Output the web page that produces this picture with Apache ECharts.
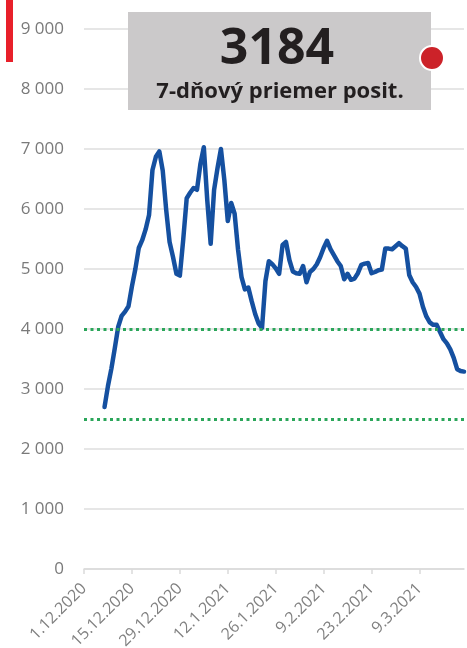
<!DOCTYPE html>
<html>
<head>
<meta charset="utf-8">
<script src="https://cdn.jsdelivr.net/npm/echarts@6/dist/echarts.min.js"></script>
<style>
  html, body { margin: 0; padding: 0; background: #ffffff; }
  #chart { width: 467px; height: 648px; }
</style>
</head>
<body>
<div id="chart"></div>
<script>
// days 1.12.2020 .. 22.3.2021
const firstDay = new Date(2020, 11, 1);
const dayCount = 112;
const categories = [];
for (let i = 0; i < dayCount; i++) {
  const d = new Date(firstDay.getTime() + i * 86400000);
  categories.push(d.getDate() + '.' + (d.getMonth() + 1) + '.' + d.getFullYear());
}

// 7-day average of positive tests (from 7.12.2020)
const leadingEmpty = [null, null, null, null, null, null];
const avgPositive = [
  2700, 3050, 3340, 3680, 4040, 4220, 4290, 4380, 4710, 5000,
  5350, 5480, 5660, 5900, 6650, 6870, 6960, 6640, 5990, 5450,
  5200, 4920, 4890, 5500, 6180, 6270, 6350, 6320, 6750, 7030,
  6150, 5420, 6320, 6680, 7000, 6480, 5800, 6100, 5920, 5320,
  4870, 4660, 4690, 4460, 4250, 4090, 4020, 4800, 5130, 5080,
  5010, 4920, 5400, 5450, 5150, 4960, 4930, 4920, 5050, 4780,
  4950, 5000, 5080, 5200, 5350, 5470, 5330, 5230, 5130, 5050,
  4830, 4920, 4820, 4840, 4930, 5070, 5090, 5100, 4930, 4950,
  4980, 4990, 5340, 5340, 5330, 5380, 5430, 5380, 5340, 4900,
  4780, 4700, 4590, 4370, 4210, 4110, 4070, 4070, 3950, 3830,
  3760, 3660, 3520, 3330, 3300, 3290
];
const lineData = leadingEmpty.concat(avgPositive);

const thresholds = [4000, 2500];
const latestValue = '3184';
const latestLabel = '7-dňový priemer posit.';

const chart = echarts.init(document.getElementById('chart'));

const option = {
  animation: false,
  backgroundColor: '#ffffff',
  grid: { left: 84, right: 3, top: 29, bottom: 79, outerBoundsMode: 'none' },
  xAxis: {
    type: 'category',
    data: categories,
    boundaryGap: false,
    axisLine: { lineStyle: { color: '#dadada', width: 1.5 } },
    axisTick: { interval: 13, length: 5, lineStyle: { color: '#dadada', width: 1.5 } },
    axisLabel: {
      interval: 13,
      rotate: 45,
      color: '#808080',
      fontSize: 16,
      fontFamily: 'Open Sans',
      margin: 17
    },
    splitLine: { show: false }
  },
  yAxis: {
    type: 'value',
    min: 0,
    max: 9000,
    interval: 1000,
    axisLine: { show: false },
    axisTick: { show: false },
    axisLabel: {
      color: '#7a7a7a',
      fontSize: 17,
      fontFamily: 'Open Sans',
      margin: 20,
      formatter: v => String(v).replace(/\B(?=(\d{3})+(?!\d))/g, ' ')
    },
    splitLine: { lineStyle: { color: '#dedede', width: 1.5 } }
  },
  series: [
    {
      type: 'line',
      data: lineData,
      showSymbol: false,
      connectNulls: false,
      lineStyle: { color: '#1550a0', width: 4.5, cap: 'round', join: 'round' },
      markLine: {
        silent: true,
        symbol: ['none', 'none'],
        label: { show: false },
        lineStyle: { color: '#2ba65a', type: [3, 3.5], width: 3 },
        data: thresholds.map(t => ({ yAxis: t }))
      },
      z: 3
    }
  ],
  graphic: [
    { type: 'rect', shape: { x: 6, y: 0, width: 7, height: 62 }, style: { fill: '#e8202a' } },
    { type: 'rect', z: 10, shape: { x: 128, y: 12, width: 303, height: 98 }, style: { fill: '#cbc9ca' } },
    {
      type: 'text', z: 11, x: 277, y: 50,
      style: {
        text: latestValue, fill: '#231f20', align: 'center', verticalAlign: 'middle',
        font: 'bold 50px "Open Sans"'
      }
    },
    {
      type: 'text', z: 11, x: 280, y: 92,
      style: {
        text: latestLabel, fill: '#231f20', align: 'center', verticalAlign: 'middle',
        font: 'bold 22px "Open Sans"'
      }
    },
    {
      type: 'circle', z: 12, shape: { cx: 432, cy: 58, r: 12 },
      style: { fill: '#cc2229', stroke: '#ffffff', lineWidth: 2 }
    }
  ]
};

chart.setOption(option);
</script>
</body>
</html>
